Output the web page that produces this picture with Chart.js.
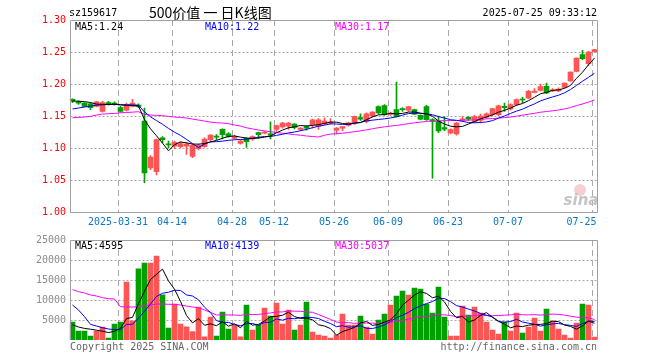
<!DOCTYPE html>
<html>
<head>
<meta charset="utf-8">
<script src="https://cdn.jsdelivr.net/npm/chart.js@4.4.1/dist/chart.umd.min.js"></script>
<style>
  html, body { margin: 0; padding: 0; background: #fff; width: 660px; height: 360px; overflow: hidden; }
  #wrap { position: relative; width: 660px; height: 360px; }
  canvas { position: absolute; left: 0; }
  #kc { top: 0; }
  #vc { top: 232px; }
</style>
</head>
<body>
<div id="wrap">
  <canvas id="kc" width="660" height="232"></canvas>
  <canvas id="vc" width="660" height="128"></canvas>
</div>
<script>
// trading days shown (2025-03-19 .. 2025-07-25)
const dates = [
  '2025-03-19','2025-03-20','2025-03-21','2025-03-24','2025-03-25','2025-03-26','2025-03-27','2025-03-28','2025-03-31',
  '2025-04-01','2025-04-02','2025-04-03','2025-04-07','2025-04-08','2025-04-09','2025-04-10','2025-04-11','2025-04-14',
  '2025-04-15','2025-04-16','2025-04-17','2025-04-18','2025-04-21','2025-04-22','2025-04-23','2025-04-24','2025-04-25',
  '2025-04-28','2025-04-29','2025-04-30',
  '2025-05-06','2025-05-07','2025-05-08','2025-05-09','2025-05-12','2025-05-13','2025-05-14','2025-05-15','2025-05-16',
  '2025-05-19','2025-05-20','2025-05-21','2025-05-22','2025-05-23','2025-05-26','2025-05-27','2025-05-28','2025-05-29','2025-05-30',
  '2025-06-03','2025-06-04','2025-06-05','2025-06-06','2025-06-09','2025-06-10','2025-06-11','2025-06-12','2025-06-13',
  '2025-06-16','2025-06-17','2025-06-18','2025-06-19','2025-06-20','2025-06-23','2025-06-24','2025-06-25','2025-06-26',
  '2025-06-27','2025-06-30',
  '2025-07-01','2025-07-02','2025-07-03','2025-07-04','2025-07-07','2025-07-08','2025-07-09','2025-07-10','2025-07-11',
  '2025-07-14','2025-07-15','2025-07-16','2025-07-17','2025-07-18','2025-07-21','2025-07-22','2025-07-23','2025-07-24','2025-07-25'
];

const open = [1.176,1.172,1.170,1.169,1.165,1.157,1.171,1.170,1.163,1.159,
  1.165,1.167,1.142,1.069,1.063,1.116,1.106,1.103,1.102,1.103,
  1.087,1.099,1.102,1.113,1.118,1.129,1.122,1.115,1.107,1.115,
  1.114,1.124,1.123,1.122,1.129,1.133,1.134,1.1375,1.129,1.1335,
  1.1365,1.134,1.138,1.139,1.128,1.131,1.1355,1.139,1.1475,1.1415,
  1.1505,1.1646,1.1662,1.1525,1.160,1.161,1.159,1.160,1.151,1.1646,
  1.1445,1.1415,1.132,1.1234,1.122,1.144,1.148,1.141,1.1432,1.148,
  1.152,1.152,1.165,1.161,1.1677,1.1765,1.178,1.187,1.190,1.1963,
  1.189,1.189,1.1947,1.205,1.2197,1.2458,1.2317,1.2505];
const high = [1.177,1.174,1.171,1.170,1.173,1.173,1.173,1.172,1.165,1.170,
  1.176,1.169,1.1625,1.088,1.114,1.118,1.111,1.111,1.110,1.109,
  1.106,1.106,1.116,1.121,1.121,1.130,1.124,1.120,1.112,1.116,
  1.119,1.125,1.126,1.141,1.136,1.140,1.140,1.138,1.132,1.135,
  1.145,1.146,1.147,1.146,1.132,1.134,1.140,1.150,1.1535,1.155,
  1.157,1.166,1.168,1.156,1.203,1.163,1.165,1.161,1.152,1.1667,
  1.146,1.150,1.149,1.130,1.140,1.149,1.149,1.151,1.153,1.155,
  1.162,1.167,1.170,1.169,1.177,1.179,1.190,1.193,1.200,1.2015,
  1.193,1.194,1.202,1.219,1.241,1.2525,1.251,1.254];
const low = [1.171,1.168,1.164,1.160,1.164,1.156,1.167,1.167,1.156,1.158,
  1.164,1.163,1.046,1.066,1.058,1.108,1.100,1.099,1.100,1.090,
  1.085,1.097,1.101,1.111,1.113,1.114,1.117,1.114,1.106,1.101,
  1.112,1.115,1.122,1.114,1.126,1.131,1.129,1.130,1.127,1.128,
  1.131,1.129,1.136,1.137,1.122,1.127,1.134,1.137,1.143,1.139,
  1.148,1.153,1.151,1.151,1.148,1.157,1.157,1.152,1.144,1.143,
  1.053,1.124,1.127,1.122,1.120,1.141,1.143,1.140,1.139,1.146,
  1.150,1.150,1.157,1.159,1.166,1.171,1.177,1.186,1.189,1.1848,
  1.188,1.188,1.194,1.204,1.219,1.238,1.229,1.2497];
const close = [1.173,1.170,1.165,1.163,1.172,1.171,1.169,1.168,1.157,1.168,
  1.170,1.165,1.061,1.086,1.113,1.113,1.105,1.109,1.107,1.106,
  1.104,1.104,1.114,1.120,1.117,1.121,1.118,1.118,1.111,1.110,
  1.118,1.121,1.125,1.120,1.135,1.139,1.139,1.132,1.131,1.131,
  1.144,1.144,1.142,1.141,1.131,1.1335,1.1395,1.1495,1.145,1.1535,
  1.156,1.1547,1.152,1.1547,1.149,1.160,1.1646,1.153,1.145,1.1443,
  1.1415,1.1265,1.1295,1.1286,1.139,1.145,1.145,1.149,1.150,1.1535,
  1.1614,1.166,1.163,1.168,1.1755,1.175,1.1885,1.189,1.196,1.1859,
  1.191,1.192,1.2015,1.2187,1.2406,1.2395,1.250,1.2536];
const vol = [4500,2250,2250,1000,2250,3250,500,4000,4500,14500,
  4800,17800,19250,19250,21000,11300,3000,9000,4000,3300,
  2100,8250,800,5750,1000,7000,2750,3750,800,8750,
  2500,3750,8000,6000,9250,4000,7500,2500,3750,9500,
  2000,1250,1000,500,1250,6500,3750,3750,6000,3250,
  1500,5000,6500,8750,11000,12250,11250,13000,12750,9000,
  6750,13250,5750,1000,1000,8500,6250,8250,6750,4500,
  2500,1500,4500,2250,6750,1750,3250,5500,2250,7750,
  4750,2750,1250,500,4250,9000,8750,750];

// MA values for the first days (window reaches before 03-19)
const ma5PriceLead = [1.1735,1.173,1.1725,1.171];
const ma10PriceLead = [1.161,1.1625,1.164,1.1655,1.1668,1.1675,1.168,1.168,1.1677];
const ma30PriceLead = [1.1473,1.1478,1.1484,1.1494,1.1515,1.153,1.1536,1.154,1.155,1.1556,
  1.156,1.1567,1.1525,1.1515,1.151,1.1505,1.1494,1.1484,1.1478,1.1468,
  1.1452,1.1437,1.1421,1.1405,1.1395,1.139,1.138,1.1359,1.1343];
const ma5VolLead = [3800,3250,2900,2700];
const ma10VolLead = [8750,7500,5830,3900,3500,3080,2750,2580,2580];
const ma30VolLead = [12600,12100,11750,11250,11000,10580,10330,10250,8330,8250,
  8250,8330,8580,8750,9000,9000,8920,8920,8750,8500,
  8250,8080,7500,6920,6250,6330,6250,6250,6170];

const priceTicks = [1.00, 1.05, 1.10, 1.15, 1.20, 1.25, 1.30];
const volTicks = [5000, 10000, 15000, 20000, 25000];
const dateTicks = ['2025-03-31','04-14','04-28','05-12','05-26','06-09','06-23','07-07','07-25'];
const priceLegend = ['MA5:1.24', 'MA10:1.22', 'MA30:1.17'];
const volLegend = ['MA5:4595', 'MA10:4139', 'MA30:5037'];

const RED = '#ff5454', GREEN = '#00a000';
const GRID = '#a8a8a8', FRAME = '#a0a0a0';
const MONO = '10px "DejaVu Sans Mono"';
const LEFT = 70.5, RIGHT = 597.5;

function movingAvg(src, n, lead) {
  return src.map((v, i) => i < n - 1 ? lead[i]
    : src.slice(i - n + 1, i + 1).reduce((a, b) => a + b, 0) / n);
}

const colors = close.map((c, i) => c >= open[i] ? RED : GREEN);
const tickIdx = dateTicks.map(t => dates.findIndex(d => d.endsWith(t)));

function hline(ctx, x1, x2, y) { ctx.beginPath(); ctx.moveTo(x1, y); ctx.lineTo(x2, y); ctx.stroke(); }
function vline(ctx, x, y1, y2) { ctx.beginPath(); ctx.moveTo(x, y1); ctx.lineTo(x, y2); ctx.stroke(); }

function drawGrid(chart, dotted) {
  const { ctx, chartArea: a, scales: { x, y } } = chart;
  ctx.save();
  ctx.lineWidth = 1;
  ctx.strokeStyle = GRID;
  ctx.setLineDash([2, 2]);
  dotted.forEach(v => hline(ctx, LEFT, RIGHT, Math.round(y.getPixelForValue(v)) + 0.5));
  ctx.setLineDash([6, 4]);
  tickIdx.forEach(i => vline(ctx, Math.floor(x.getPixelForValue(i) - 2) + 0.5, a.top, a.bottom));
  ctx.restore();
}

function lineSet(data, color) {
  return { type: 'line', data, borderColor: color, borderWidth: 1, pointRadius: 0, tension: 0, order: 0 };
}

const pricePlugin = {
  id: 'priceFrame',
  beforeDatasetsDraw(chart) {
    const { ctx } = chart;
    drawGrid(chart, priceTicks.slice(1, -1));
    // watermark
    ctx.save();
    ctx.fillStyle = 'rgba(230,120,120,0.35)';
    ctx.beginPath(); ctx.arc(580, 190, 6, 0, Math.PI * 2); ctx.fill();
    ctx.font = 'italic bold 15px "DejaVu Sans"';
    ctx.fillStyle = '#c4c4c4';
    ctx.textAlign = 'center'; ctx.textBaseline = 'middle';
    ctx.fillText('sina', 581, 201);
    ctx.restore();
  },
  afterDraw(chart) {
    const { ctx, chartArea: a, scales: { x, y } } = chart;
    ctx.save();
    ctx.strokeStyle = FRAME; ctx.lineWidth = 1;
    const top = Math.round(a.top) + 0.5, bot = Math.round(a.bottom) + 0.5;
    hline(ctx, LEFT, RIGHT, top); hline(ctx, LEFT, RIGHT, bot);
    vline(ctx, LEFT, top, bot); vline(ctx, RIGHT, top, bot);

    ctx.font = MONO; ctx.textBaseline = 'middle';
    ctx.fillStyle = '#ff0000'; ctx.textAlign = 'right';
    priceTicks.forEach(v => ctx.fillText(v.toFixed(2), 66, Math.round(y.getPixelForValue(v))));

    ctx.fillStyle = '#0a78c8';
    tickIdx.forEach((i, k) => {
      const t = dateTicks[k], w = ctx.measureText(t).width;
      let px = Math.floor(x.getPixelForValue(i) - 2);
      ctx.textAlign = px + w / 2 > RIGHT ? 'right' : 'center';
      ctx.fillText(t, ctx.textAlign === 'right' ? RIGHT - 1 : px, 222);
    });

    ctx.textAlign = 'left';
    [['#000000', 75], ['#0000ff', 205], ['#ff00ff', 335]].forEach(([c, px], k) => {
      ctx.fillStyle = c; ctx.fillText(priceLegend[k], px, 27);
    });

    ctx.fillStyle = '#000';
    ctx.fillText('sz159617', 69, 13);
    ctx.font = '14px "Noto Sans CJK SC"';
    ctx.fillText('500价值 一 日K线图', 149, 13);
    ctx.font = MONO; ctx.textAlign = 'right';
    ctx.fillText('2025-07-25 09:33:12', 597, 13);
    ctx.restore();
  }
};

const volPlugin = {
  id: 'volFrame',
  beforeDatasetsDraw(chart) { drawGrid(chart, volTicks.slice(0, -1)); },
  afterDraw(chart) {
    const { ctx, chartArea: a, scales: { y } } = chart;
    ctx.save();
    ctx.strokeStyle = FRAME; ctx.lineWidth = 1;
    const top = Math.round(a.top) + 0.5, bot = Math.round(a.bottom);
    hline(ctx, LEFT, RIGHT, top);
    vline(ctx, LEFT, top, bot); vline(ctx, RIGHT, top, bot);

    ctx.font = MONO; ctx.textBaseline = 'middle';
    ctx.fillStyle = '#8c8c8c'; ctx.textAlign = 'right';
    volTicks.forEach(v => ctx.fillText(String(v), 66, Math.round(y.getPixelForValue(v))));

    ctx.textAlign = 'left';
    [['#000000', 75], ['#0000ff', 205], ['#ff00ff', 335]].forEach(([c, px], k) => {
      ctx.fillStyle = c; ctx.fillText(volLegend[k], px, 14);
    });

    ctx.fillStyle = '#666';
    ctx.fillText('Copyright 2025 SINA.COM', 70, 115);
    ctx.textAlign = 'right';
    ctx.fillText('http://finance.sina.com.cn', 597, 115);
    ctx.restore();
  }
};

const common = {
  responsive: false,
  animation: false,
  events: [],
  plugins: { legend: { display: false }, tooltip: { enabled: false } }
};

new Chart(document.getElementById('kc'), {
  type: 'bar',
  data: {
    labels: dates,
    datasets: [
      lineSet(movingAvg(close, 5, ma5PriceLead), '#000000'),
      lineSet(movingAvg(close, 10, ma10PriceLead), '#0000ff'),
      lineSet(movingAvg(close, 30, ma30PriceLead), '#ff00ff'),
      { data: close.map((c, i) => [open[i], c]), backgroundColor: colors, barThickness: 5,
        minBarLength: 1, grouped: false, order: 1 },
      { data: close.map((c, i) => [low[i], high[i]]), backgroundColor: colors, barThickness: 1,
        grouped: false, order: 2 }
    ]
  },
  options: {
    ...common,
    layout: { padding: { left: 69.5, right: 62.5, top: 20, bottom: 20 } },
    scales: {
      x: { display: false, offset: true },
      y: { display: false, min: 1.0, max: 1.3 }
    }
  },
  plugins: [pricePlugin]
});

new Chart(document.getElementById('vc'), {
  type: 'bar',
  data: {
    labels: dates,
    datasets: [
      lineSet(movingAvg(vol, 5, ma5VolLead), '#000000'),
      lineSet(movingAvg(vol, 10, ma10VolLead), '#0000ff'),
      lineSet(movingAvg(vol, 30, ma30VolLead), '#ff00ff'),
      { data: vol, backgroundColor: colors, barThickness: 5, order: 1 }
    ]
  },
  options: {
    ...common,
    layout: { padding: { left: 69.5, right: 62.5, top: 8, bottom: 20 } },
    scales: {
      x: { display: false, offset: true },
      y: { display: false, min: 0, max: 25000 }
    }
  },
  plugins: [volPlugin]
});
</script>
</body>
</html>
